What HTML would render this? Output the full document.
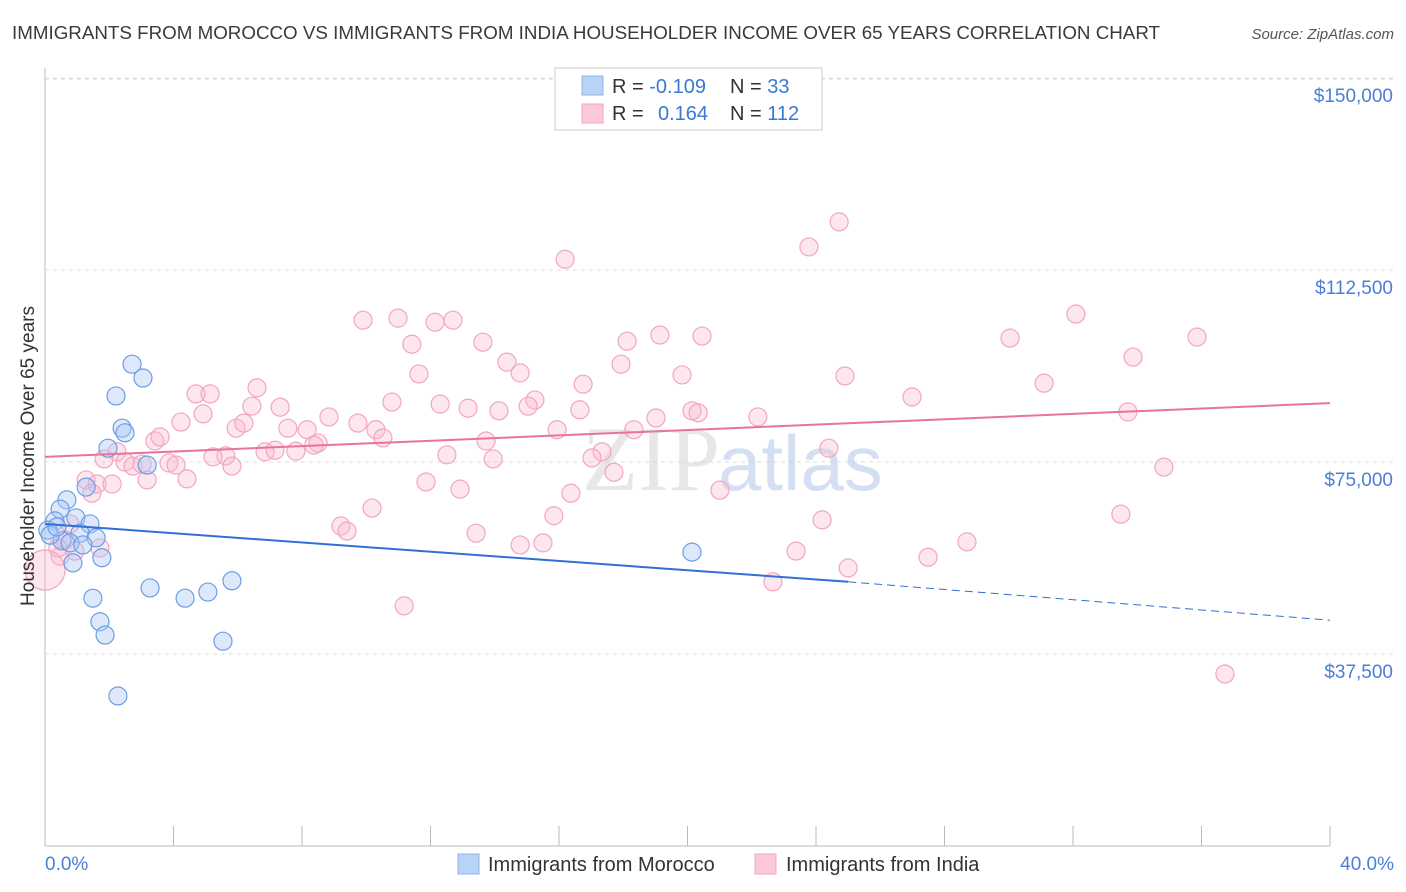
<!DOCTYPE html>
<html><head><meta charset="utf-8"><style>
body{margin:0;background:#fff;font-family:"Liberation Sans",sans-serif}
svg{display:block}
</style></head><body>
<svg id="chart" width="1406" height="892" xmlns="http://www.w3.org/2000/svg">
<text x="12" y="39" font-size="18.5" fill="#3a3a3a" textLength="1148" lengthAdjust="spacingAndGlyphs">IMMIGRANTS FROM MOROCCO VS IMMIGRANTS FROM INDIA HOUSEHOLDER INCOME OVER 65 YEARS CORRELATION CHART</text>
<text x="1394" y="39" font-size="15" fill="#555" text-anchor="end" font-style="italic">Source: ZipAtlas.com</text>
<g id="grid"></g>
<text x="720" y="490" font-size="92" fill="#d8d8d8" text-anchor="end" font-family="Liberation Serif,serif" opacity="0.6">ZIP</text>
<text x="718" y="490" font-size="78" fill="#b9cdea" opacity="0.6">atlas</text>
<g id="pts"></g>
<g id="trend"></g>
<text transform="translate(34,456) rotate(-90)" font-size="19" fill="#333" text-anchor="middle">Householder Income Over 65 years</text>
<text x="45" y="870" font-size="19" fill="#4a7fd6">0.0%</text>
<text x="1394" y="870" font-size="19" fill="#4a7fd6" text-anchor="end">40.0%</text>
<g>
<rect x="555" y="68" width="267" height="62" fill="#fff" stroke="#ccc"/>
<rect x="582" y="76" width="21" height="19" fill="#b8d3f5" stroke="#8fb4e8"/>
<rect x="582" y="104" width="21" height="19" fill="#fbc9d8" stroke="#f0a5bd"/>
<text x="612" y="93" font-size="20" fill="#333">R = <tspan fill="#3a78d4">-0.109</tspan></text>
<text x="730" y="93" font-size="20" fill="#333">N = <tspan fill="#3a78d4"> 33</tspan></text>
<text x="612" y="120" font-size="20" fill="#333">R = <tspan fill="#3a78d4" x="658">0.164</tspan></text>
<text x="730" y="120" font-size="20" fill="#333">N = <tspan fill="#3a78d4">112</tspan></text>
</g>
<g>
<rect x="458" y="854" width="21" height="20" fill="#b8d3f5" stroke="#8fb4e8"/>
<text x="488" y="871" font-size="20" fill="#333">Immigrants from Morocco</text>
<rect x="755" y="854" width="21" height="20" fill="#fbc9d8" stroke="#f0a5bd"/>
<text x="786" y="871" font-size="20" fill="#333">Immigrants from India</text>
</g>
</svg>
<script>
const yTicks=[37500,75000,112500,150000];
const yTickLabels=["$37,500","$75,000","$112,500","$150,000"];
const xTicks=[0,4,8,12,16,20,24,28,32,36,40];
const moroccoX=[2.71,3.05,2.21,2.40,2.49,1.96,3.18,1.28,0.68,0.47,0.96,1.40,0.31,0.09,1.09,0.53,0.78,1.59,1.18,1.77,0.87,3.27,4.36,5.07,5.82,1.49,1.71,1.87,5.54,2.27,20.14,0.16,0.37];
const moroccoY=[94.1,91.4,87.9,81.6,80.7,77.7,74.4,70.1,67.6,65.8,64.1,62.9,63.5,61.7,61.1,59.6,59.2,60.2,58.8,56.3,55.3,50.4,48.4,49.6,51.8,48.4,43.8,41.2,40.0,29.3,57.4,60.7,62.3];
const indiaX=[24.72,23.78,16.19,9.90,10.99,12.14,12.70,11.42,13.63,18.12,19.14,20.45,32.09,30.04,35.86,33.87,14.38,14.79,11.64,17.93,16.75,19.83,24.90,31.10,6.60,4.70,5.14,10.80,12.30,15.25,13.17,14.13,15.04,16.65,20.14,20.33,22.19,26.99,33.71,6.44,7.32,4.92,4.23,8.84,9.74,19.02,5.95,6.19,7.56,8.16,10.30,10.52,15.94,18.33,3.42,3.58,8.50,8.37,13.73,24.40,2.24,1.84,6.85,7.16,7.81,5.63,5.23,12.51,13.95,17.34,17.03,2.49,2.74,3.02,3.86,4.08,5.82,17.71,1.28,1.62,2.09,3.18,4.42,11.86,12.92,16.37,21.01,1.46,34.83,10.18,15.84,9.21,9.40,13.42,24.19,33.49,28.70,14.79,15.50,23.38,27.49,25.00,22.66,11.18,36.73,0.78,0.62,1.71,0.47,0.93,0.40,0.0];
const indiaY=[121.9,117.0,114.6,102.7,103.1,102.3,102.7,98.0,98.4,98.6,99.8,99.6,103.9,99.2,99.4,95.5,94.5,92.4,92.2,94.1,90.2,92.0,91.8,90.4,89.5,88.3,88.3,86.7,86.3,87.1,85.5,85.0,85.9,85.2,85.0,84.6,83.8,87.7,84.8,85.9,85.7,84.4,82.8,83.8,82.6,83.6,81.6,82.6,81.6,81.3,81.3,79.7,81.3,81.3,79.1,79.9,78.7,78.3,79.1,77.7,77.0,75.6,77.0,77.3,77.1,76.2,76.0,76.4,75.6,77.0,75.8,75.0,74.2,74.6,74.8,74.4,74.2,73.0,71.5,70.7,70.7,71.5,71.7,71.1,69.7,68.9,69.5,68.9,74.0,66.0,64.5,62.5,61.5,61.1,63.7,64.8,59.4,58.8,59.2,57.6,56.4,54.3,51.6,46.9,33.6,62.9,59.8,58.2,56.6,57.6,58.2,53.9];
const moroccoTrend=[62.9,51.6,44.1];
const indiaTrend=[76.0,86.5];
const NS='http://www.w3.org/2000/svg';
const X=v=>45+v*32.125;
const Y=k=>846-k*5.12;
function mk(tag,attrs,parent){const e=document.createElementNS(NS,tag);for(const a in attrs)e.setAttribute(a,attrs[a]);parent.appendChild(e);return e;}
const grid=document.getElementById('grid');
let ax=mk('line',{x1:45,y1:68,x2:45,y2:846,stroke:'#bbb'},grid);


let bx=mk('line',{x1:45,y1:846,x2:1330,y2:846,stroke:'#bbb'},grid);


mk('line',{x1:45,y1:79,x2:1394,y2:79,stroke:'#ddd','stroke-dasharray':'4,4'},grid);
yTicks.forEach((t,i)=>{
 const y=Y(t/1000);
 const g=mk('line',{x1:45,y1:y,x2:1394,y2:y,stroke:'#ddd','stroke-dasharray':'4,4'},grid);
 
 
 const tx=mk('text',{x:1393,y:y+24,'font-size':19,fill:'#4a7fd6','text-anchor':'end'},grid);
 tx.textContent=yTickLabels[i];
 
 
});
xTicks.forEach(t=>{
 const l=mk('line',{x1:X(t),y1:826,x2:X(t),y2:846,stroke:'#bbb'},grid);
 
 
});
const pts=document.getElementById('pts');
indiaX.forEach((x,i)=>{
 const big=(i===indiaX.length-1);
 const c=mk('circle',{cx:X(x),cy:Y(indiaY[i]),r:big?20:9,fill:'rgba(248,182,204,0.35)',stroke:'#f2a6c0','stroke-width':1.2},pts);
 
 
});
moroccoX.forEach((x,i)=>{
 const c=mk('circle',{cx:X(x),cy:Y(moroccoY[i]),r:9,fill:'rgba(170,200,245,0.4)',stroke:'#6d9de3','stroke-width':1.2},pts);
 
 
});
const tr=document.getElementById('trend');
let l1=mk('line',{x1:X(0),y1:Y(moroccoTrend[0]),x2:X(25),y2:Y(moroccoTrend[1]),stroke:'#2f6fd6','stroke-width':2},tr);


let l2=mk('line',{x1:X(25),y1:Y(moroccoTrend[1]),x2:X(40),y2:Y(moroccoTrend[2]),stroke:'#2f6fd6','stroke-width':1,'stroke-dasharray':'8,5'},tr);


let l3=mk('line',{x1:X(0),y1:Y(indiaTrend[0]),x2:X(40),y2:Y(indiaTrend[1]),stroke:'#e8739b','stroke-width':2},tr);


</script>
</body></html>
